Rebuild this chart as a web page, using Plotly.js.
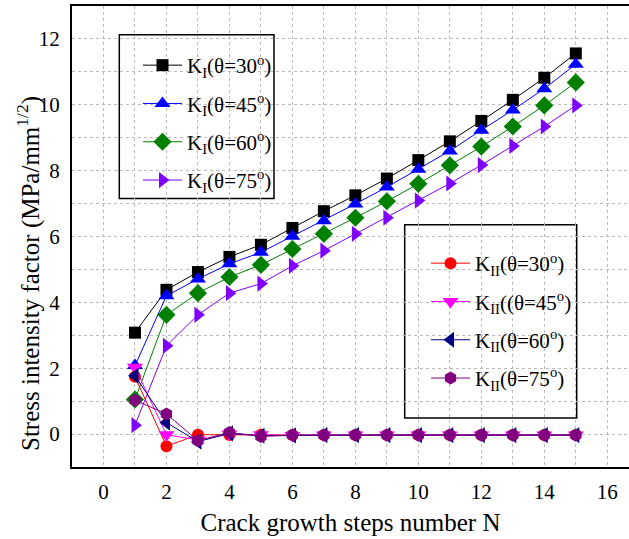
<!DOCTYPE html>
<html>
<head>
<meta charset="utf-8">
<script src="https://cdn.plot.ly/plotly-3.0.1.min.js"></script>
<style>html,body{margin:0;padding:0;background:#fff;}#chart{width:629px;height:539px;}</style>
</head>
<body>
<div id="chart"></div>
<script>
const steps = [1,2,3,4,5,6,7,8,9,10,11,12,13,14,15];

const kI30 = [3.08,4.38,4.92,5.38,5.75,6.26,6.77,7.25,7.76,8.32,8.89,9.51,10.15,10.82,11.56];
const kI45 = [2.08,4.20,4.71,5.17,5.52,6.01,6.48,6.99,7.50,8.04,8.60,9.23,9.84,10.49,11.23];
const kI60 = [1.05,3.62,4.28,4.77,5.14,5.62,6.08,6.57,7.07,7.60,8.16,8.73,9.34,9.98,10.68];
const kI75 = [0.27,2.68,3.62,4.28,4.57,5.11,5.57,6.08,6.57,7.09,7.61,8.17,8.75,9.34,9.98];

const kII30 = [1.74,-0.37,-0.02,-0.03,-0.02,-0.03,-0.03,-0.03,-0.03,-0.03,-0.03,-0.03,-0.03,-0.03,-0.03];
const kII45 = [2.03,-0.02,-0.18,0.00,-0.02,-0.04,-0.03,-0.03,-0.03,-0.03,-0.03,-0.03,-0.03,-0.03,-0.03];
const kII60 = [1.77,0.35,-0.23,0.02,-0.05,-0.04,-0.03,-0.03,-0.03,-0.03,-0.03,-0.03,-0.03,-0.03,-0.03];
const kII75 = [1.03,0.61,-0.20,0.05,-0.07,-0.03,-0.03,-0.03,-0.03,-0.03,-0.03,-0.03,-0.03,-0.03,-0.03];

const namesI = ['K<sub>I</sub>(θ=30<sup>o</sup>)','K<sub>I</sub>(θ=45<sup>o</sup>)','K<sub>I</sub>(θ=60<sup>o</sup>)','K<sub>I</sub>(θ=75<sup>o</sup>)'];
const namesII = ['K<sub>II</sub>(θ=30<sup>o</sup>)','K<sub>II</sub>((θ=45<sup>o</sup>)','K<sub>II</sub>(θ=60<sup>o</sup>)','K<sub>II</sub>(θ=75<sup>o</sup>)'];
const xTitle = 'Crack growth steps number N';
const yTitle = 'Stress intensity factor (MPa/mm<sup>1/2</sup>)';

function tr(y, name, color, symbol, size, legend, grp){
  return {x: steps, y: y, name: name, type:'scatter', mode:'lines+markers',
    line:{color:color, width:1}, marker:{symbol:symbol, size:size, color:color, line:{width:0}},
    legend: legend, legendgroup: grp};
}

const data = [
  tr(kI30, namesI[0], '#000000', 'square', 12, 'legend', 'a1'),
  tr(kI45, namesI[1], '#0000ff', 'triangle-up', 14, 'legend', 'a2'),
  tr(kI60, namesI[2], '#008000', 'diamond', 14, 'legend', 'a3'),
  tr(kI75, namesI[3], '#8000ff', 'triangle-right', 14, 'legend', 'a4'),
  tr(kII30, namesII[0], '#ff0000', 'circle', 12, 'legend2', 'b1'),
  tr(kII45, namesII[1], '#ff00ff', 'triangle-down', 14, 'legend2', 'b2'),
  tr(kII60, namesII[2], '#000080', 'triangle-left', 14, 'legend2', 'b3'),
  tr(kII75, namesII[3], '#800080', 'hexagon', 13, 'legend2', 'b4')
];

const fontFam = 'Liberation Serif';

const layout = {
  width: 629, height: 539,
  margin: {l:72, r:0, t:6, b:72},
  paper_bgcolor:'#ffffff', plot_bgcolor:'#ffffff',
  font: {family: fontFam, size: 20, color:'#000'},
  showlegend: true,
  xaxis: {
    range: [-1, 16.69], dtick: 2, tick0: 0,
    showline: true, linecolor:'#000', linewidth: 2, mirror: true,
    showgrid: true, gridcolor:'#bbbbbb', griddash:'dot', gridwidth:1,
    minor: {dtick:1, showgrid:true, gridcolor:'#bbbbbb', griddash:'dot', gridwidth:1},
    zeroline: false, ticks: 'outside', ticklen: 5, tickcolor:'rgba(0,0,0,0)',
    tickfont: {family: fontFam, size: 21},
    title: {text: xTitle, font:{family: fontFam, size:25}, standoff: 10}
  },
  yaxis: {
    range: [-1, 13], dtick: 2, tick0: 0,
    showline: true, linecolor:'#000', linewidth: 2, mirror: false,
    showgrid: true, gridcolor:'#bbbbbb', griddash:'dot', gridwidth:1,
    minor: {dtick:1, showgrid:true, gridcolor:'#bbbbbb', griddash:'dot', gridwidth:1},
    zeroline: false, ticks: 'outside', ticklen: 6, tickcolor:'rgba(0,0,0,0)',
    tickfont: {family: fontFam, size: 21}
  },
  annotations: [
    {text: yTitle, xref:'paper', yref:'paper', x:(28-72)/557, y:1-(274-6)/461, xanchor:'center', yanchor:'middle',
     textangle:-90, showarrow:false, font:{family: fontFam, size:25, color:'#000'}}
  ],
  shapes: [
    {type:'rect', xref:'paper', yref:'paper', x0:(119.3-72)/557, x1:(274-72)/557, y0:1-(198.5-6)/461, y1:1-(34.7-6)/461,
     line:{color:'#000', width:1.5}, fillcolor:'#ffffff', layer:'between'},
    {type:'rect', xref:'paper', yref:'paper', x0:(404.7-72)/557, x1:(576.7-72)/557, y0:1-(418-6)/461, y1:1-(224.7-6)/461,
     line:{color:'#000', width:1.5}, fillcolor:'#ffffff', layer:'between'}
  ],
  legend: {x:(138-72)/557, y:1-(45-6)/461, xanchor:'left', yanchor:'top', bgcolor:'rgba(0,0,0,0)', borderwidth:0,
    tracegroupgap: 8, itemwidth: 39, font:{family: fontFam, size:21}},
  legend2: {x:(426-72)/557, y:1-(243-6)/461, xanchor:'left', yanchor:'top', bgcolor:'rgba(0,0,0,0)', borderwidth:0,
    tracegroupgap: 8, itemwidth: 39, font:{family: fontFam, size:21}}
};

Plotly.newPlot('chart', data, layout, {staticPlot:true, displayModeBar:false});
</script>
</body>
</html>
